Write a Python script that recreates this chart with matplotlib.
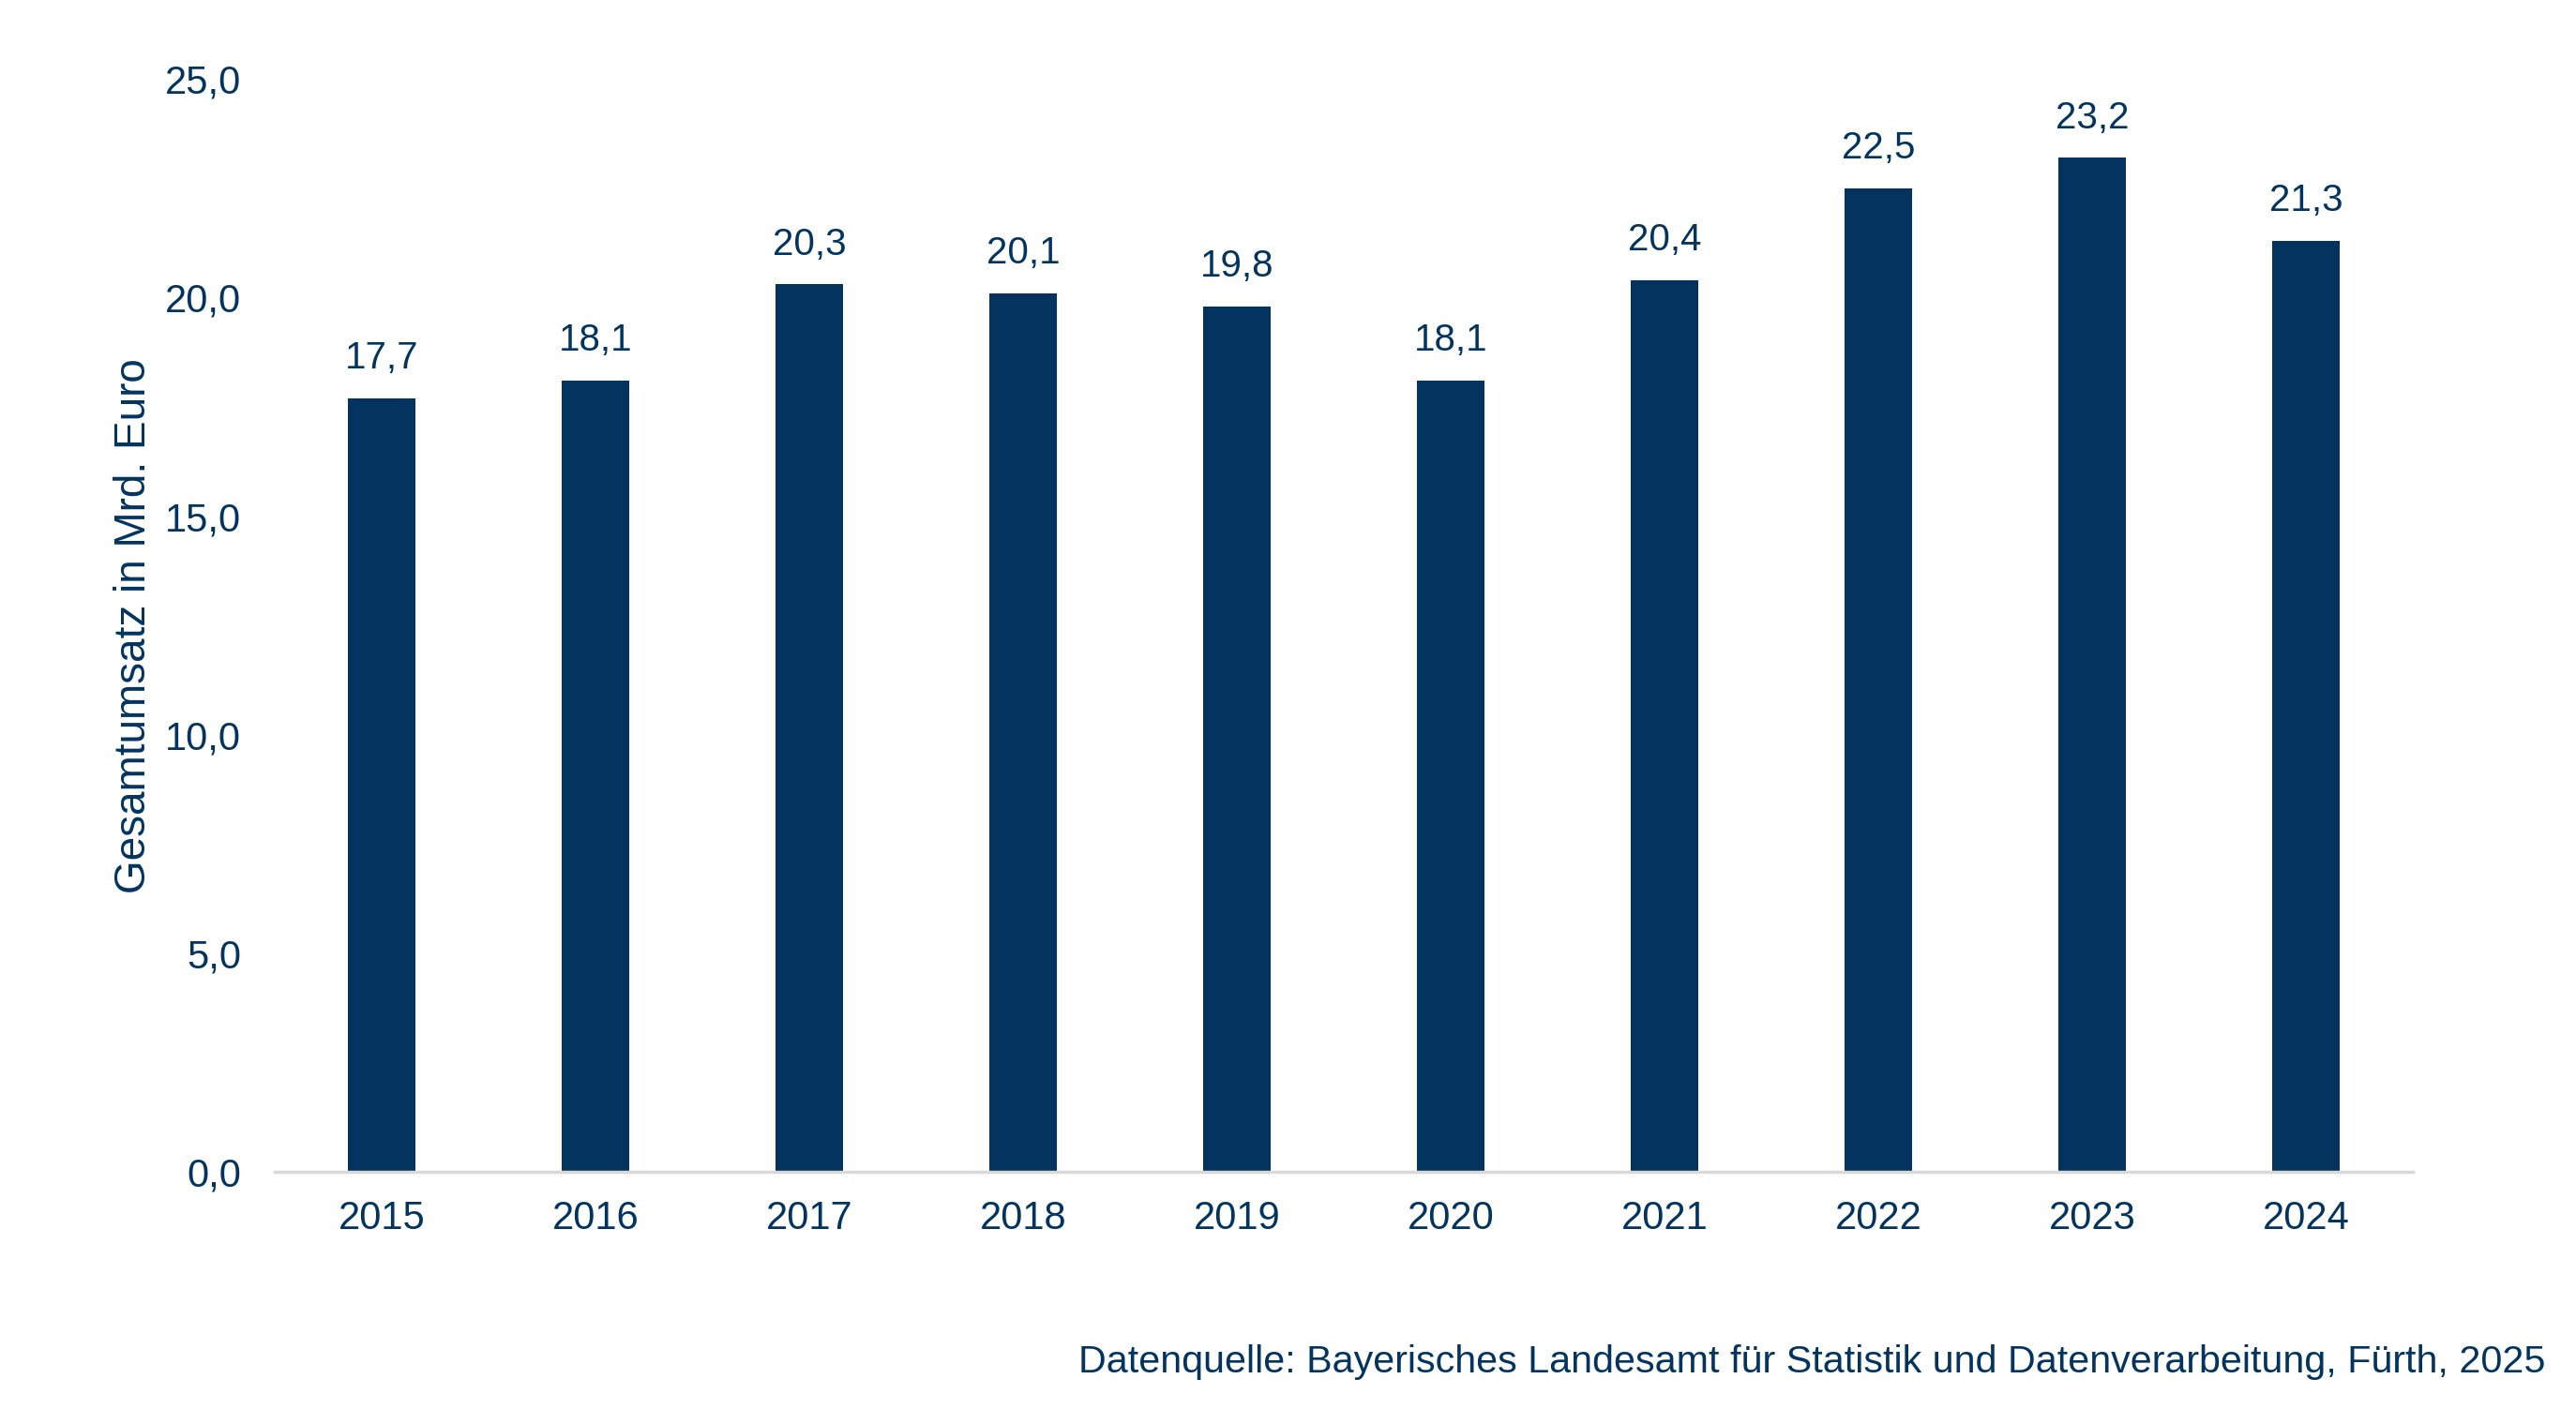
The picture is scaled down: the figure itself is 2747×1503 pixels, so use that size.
import matplotlib
matplotlib.use('Agg')
import matplotlib.pyplot as plt
import numpy as np

# Daten
jahre = ['2015', '2016', '2017', '2018', '2019', '2020', '2021', '2022', '2023', '2024']
umsatz = [17.7, 18.1, 20.3, 20.1, 19.8, 18.1, 20.4, 22.5, 23.2, 21.3]
y_ticks = [0, 5, 10, 15, 20, 25]

navy = '#03345f'

plt.rcParams['font.family'] = ['Liberation Sans', 'DejaVu Sans']

fig = plt.figure(figsize=(27.47, 15.03), dpi=100)
ax = fig.add_axes([0.1067, 0.168, 0.830, 0.776])

x = np.arange(len(jahre))
bars = ax.bar(x, umsatz, width=0.315, color=navy, zorder=2)

# Werte ueber den Balken
for xi, v in zip(x, umsatz):
    ax.annotate(f'{v:.1f}'.replace('.', ','), (xi, v), xytext=(0, 17),
                textcoords='offset points', ha='center', va='bottom',
                fontsize=29, color=navy)

ax.set_xlim(-0.5, len(jahre) - 0.5)
ax.set_ylim(0, 25)
ax.set_xticks(x)
ax.set_xticklabels(jahre)
ax.set_yticks(y_ticks)
ax.set_yticklabels([f'{t:.1f}'.replace('.', ',') for t in y_ticks])
ax.tick_params(axis='both', length=0, labelsize=30, labelcolor=navy)
ax.tick_params(axis='x', pad=21)
ax.tick_params(axis='y', pad=26)

for s in ['top', 'right', 'left']:
    ax.spines[s].set_visible(False)
ax.spines['bottom'].set_color('#d9d9d9')
ax.spines['bottom'].set_linewidth(2.5)

ax.set_ylabel('Gesamtumsatz in Mrd. Euro', fontsize=33, color=navy, labelpad=8)

fig.text(0.988, 0.033, 'Datenquelle: Bayerisches Landesamt für Statistik und Datenverarbeitung, Fürth, 2025',
         ha='right', va='center', fontsize=29.7, color=navy)

fig.savefig('out.png', dpi=100)
